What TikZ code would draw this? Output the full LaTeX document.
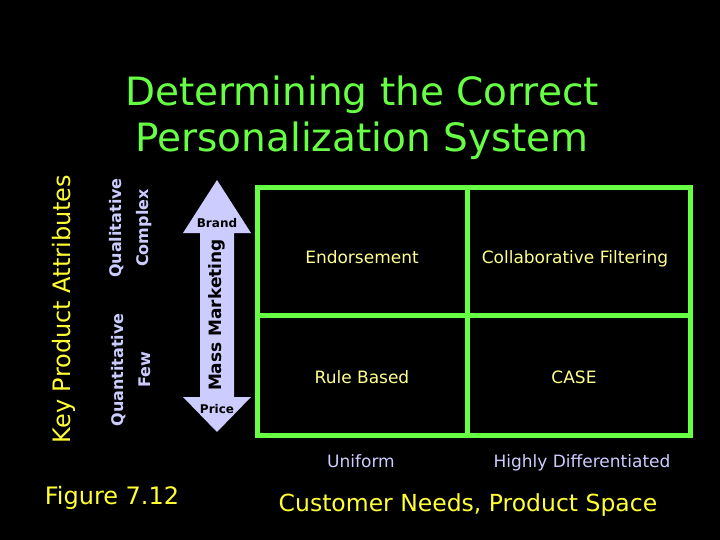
\documentclass[tikz,border=0pt]{standalone}
\usepackage{fontspec}
\setmainfont{DejaVu Sans}
\definecolor{brightgreen}{RGB}{102,255,68}
\definecolor{lavender}{RGB}{204,204,255}
\definecolor{paleyellow}{RGB}{255,255,140}
\definecolor{sunyellow}{RGB}{255,255,51}
\usetikzlibrary{positioning}

\begin{document}
\begin{tikzpicture}[x=1pt, y=-1pt,
    grid/.style={draw=brightgreen, line width=5pt},
    cell/.style={text=paleyellow, font=\fontsize{17}{20}\selectfont, inner sep=0pt, anchor=base},
    axislabel/.style={text=lavender, font=\fontsize{17}{20}\selectfont, inner sep=0pt, anchor=base},
    sidelabel/.style={text=lavender, font=\bfseries\fontsize{16}{27}\selectfont,
      rotate=90, align=center, inner sep=0pt},
    arrowlabel/.style={text=black, font=\bfseries\fontsize{12}{14}\selectfont, inner sep=0pt},
  ]
    \fill[black] (0,0) rectangle (720,540);

    % title
    \node[text=brightgreen, font=\fontsize{39}{46}\selectfont, align=center] (title) at (362,118)
      {Determining the Correct\\Personalization System};

    % quadrant frame
    \draw[grid] (257,188) rectangle (690,435);
    \draw[grid] (467,188) -- (467,435);
    \draw[grid] (257,315) -- (688,315);

    \node[cell] (endorse) at (362,263) {Endorsement};
    \node[cell] (collab) at (575,263) {Collaborative Filtering};
    \node[cell] (rule) at (362,383) {Rule Based};
    \node[cell] (case) at (574,383) {CASE};

    \node[axislabel] (uniform) at (361,467) {Uniform};
    \node[axislabel] (diff) at (582,467) {Highly Differentiated};

    % mass marketing arrow
    \fill[lavender] (217,180) -- (251,233) -- (234,233) -- (234,397) -- (251,397)
      -- (217,432) -- (183,397) -- (200,397) -- (200,233) -- (183,233) -- cycle;
    \node[arrowlabel] (brand) at (217,223) {Brand};
    \node[arrowlabel] (price) at (217,409) {Price};
    \node[arrowlabel, font=\bfseries\fontsize{17}{20}\selectfont, rotate=90] (mass) at (217,315) {Mass Marketing};

    % side labels
    \node[text=sunyellow, font=\fontsize{24}{28}\selectfont, rotate=90, inner sep=0pt] (keyattr) at (64,309)
      {Key Product Attributes};
    \node[sidelabel] (qual) at (131,228) {Qualitative\\Complex};
    \node[sidelabel] (quant) at (131,370) {Quantitative\\Few};

    % footer
    \node[text=sunyellow, font=\fontsize{24}{28}\selectfont] (fig) at (112,498) {Figure 7.12};
    \node[text=sunyellow, font=\fontsize{23.5}{28}\selectfont] (space) at (468,505) {Customer Needs, Product Space};
  \end{tikzpicture}
\end{document}
